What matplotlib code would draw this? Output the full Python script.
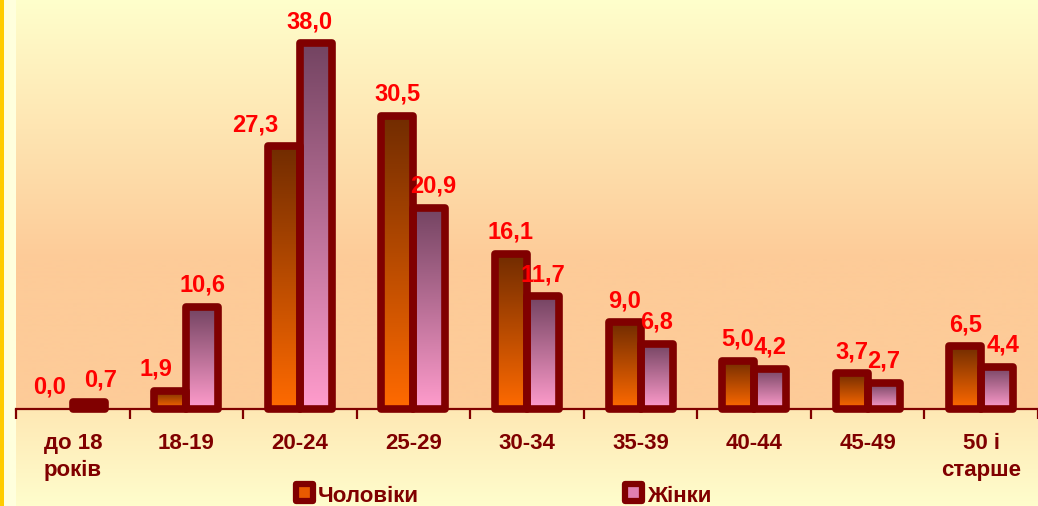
import numpy as np
import matplotlib
matplotlib.use("Agg")
import matplotlib.pyplot as plt
from matplotlib.patches import Rectangle
from matplotlib.colors import to_rgb

# ---------------- data ----------------
categories = ["до 18\nроків", "18-19", "20-24", "25-29", "30-34", "35-39", "40-44", "45-49", "50 і\nстарше"]
men = [0.0, 1.9, 27.3, 30.5, 16.1, 9.0, 5.0, 3.7, 6.5]
women = [0.7, 10.6, 38.0, 20.9, 11.7, 6.8, 4.2, 2.7, 4.4]
series_names = ["Чоловіки", "Жінки"]

# label nudges (pixels) for a few hand-placed labels
men_dx = [-7, -14, -29, 0, 0, 0, 0, 0, 0]
women_dx = [12, 0, -6, 4, 0, 0, 0, 0, 6]

W, H = 1038, 506
DPI = 100
FONT = "Liberation Sans"
DARK = "#800000"

fig = plt.figure(figsize=((W + 0.01) / DPI, (H + 0.01) / DPI), dpi=DPI)

# ---------------- background (pixel coords) ----------------
bg = fig.add_axes([0, 0, 1, 1], zorder=0)
bg.set_xlim(0, W)
bg.set_ylim(H, 0)
bg.axis("off")


def grad(c1, c2, n):
    a = np.array(to_rgb(c1)); b = np.array(to_rgb(c2))
    t = np.linspace(0, 1, n)[:, None]
    return a * (1 - t) + b * t

axis_y = 409
top_part = np.vstack([grad("#FFFFCC", "#FDCB98", 260), grad("#FDCB98", "#FDCB98", axis_y - 260)])
bot_part = grad("#FEE8B4", "#FFFDCC", H - axis_y)
col = np.vstack([top_part, bot_part])
img = np.repeat(col[:, None, :], W, axis=1)
img[:, 0:4, :] = to_rgb("#FFCC00")
img[:, 4:16, :] = to_rgb("#FFFFDD")
bg.imshow(img, extent=[0, W, H, 0], aspect="auto", interpolation="bilinear")

# ---------------- main axes ----------------
left_px = 16
unit_px = 114.6
px_per_val = 9.62
ax = fig.add_axes([left_px / W, (H - axis_y) / H, (W - left_px) / W, axis_y / H], zorder=1)
ax.patch.set_alpha(0)
ax.set_xlim(-0.5, -0.5 + (W - left_px) / unit_px)
ax.set_ylim(0, axis_y / px_per_val)

x = np.arange(len(categories))
bw = 0.282

men_bars = ax.bar(x - bw / 2, men, bw, facecolor="none", edgecolor="none")
women_bars = ax.bar(x + bw / 2, women, bw, facecolor="none", edgecolor="none")

men_grad = grad("#722C00", "#FF6A00", 64)
women_grad = grad("#744462", "#FF9CCC", 64)

for bars, g in ((men_bars, men_grad), (women_bars, women_grad)):
    for b in bars:
        h = b.get_height()
        if h <= 0:
            continue
        x0 = b.get_x(); w = b.get_width()
        im = ax.imshow(g[:, None, :], extent=[x0, x0 + w, 0, h], aspect="auto",
                       interpolation="bilinear", zorder=2)
        im.set_clip_path(b)
        b.set_edgecolor(DARK)
        b.set_linewidth(5.5)
        b.set_joinstyle("round")
        b.set_zorder(3)
        b.set_clip_on(False)

# value labels
for bars, vals, dxs in ((men_bars, men, men_dx), (women_bars, women, women_dx)):
    for b, v, dx in zip(bars, vals, dxs):
        cx = b.get_x() + b.get_width() / 2
        ax.annotate(f"{v:.1f}".replace(".", ","), (cx, v), xytext=(dx * 0.72, 11),
                    textcoords="offset points", ha="center", va="baseline",
                    color="#FF0000", fontsize=17, fontweight="bold", family=FONT,
                    annotation_clip=False, zorder=5)

for s in ("top", "right", "left"):
    ax.spines[s].set_visible(False)
ax.spines["bottom"].set_color(DARK)
ax.spines["bottom"].set_linewidth(1.6)
ax.set_yticks([])
ax.set_xticks(x)
ax.set_xticklabels(categories, fontsize=16, fontweight="bold", family=FONT,
                   color=DARK, linespacing=1.4)
ax.tick_params(axis="x", which="major", length=0, pad=17)
ax.set_xticks(np.arange(-0.5, len(categories), 1.0), minor=True)
ax.tick_params(axis="x", which="minor", length=7, width=1.6, color=DARK)

# ---------------- legend (pixel coords on overlay) ----------------
ov = fig.add_axes([0, 0, 1, 1], zorder=3)
ov.set_xlim(0, W); ov.set_ylim(H, 0); ov.axis("off"); ov.patch.set_alpha(0)
for lx, name, inner in ((296, series_names[0], "#E85A00"), (625, series_names[1], "#E080B0")):
    ov.add_patch(Rectangle((lx, 484), 17, 17, facecolor=inner, edgecolor=DARK,
                           linewidth=4.5, joinstyle="round"))
    ov.text(lx + 22, 502, name, fontsize=16, fontweight="bold", family=FONT,
            color=DARK, ha="left", va="baseline")

fig.savefig("out.png", dpi=DPI)
